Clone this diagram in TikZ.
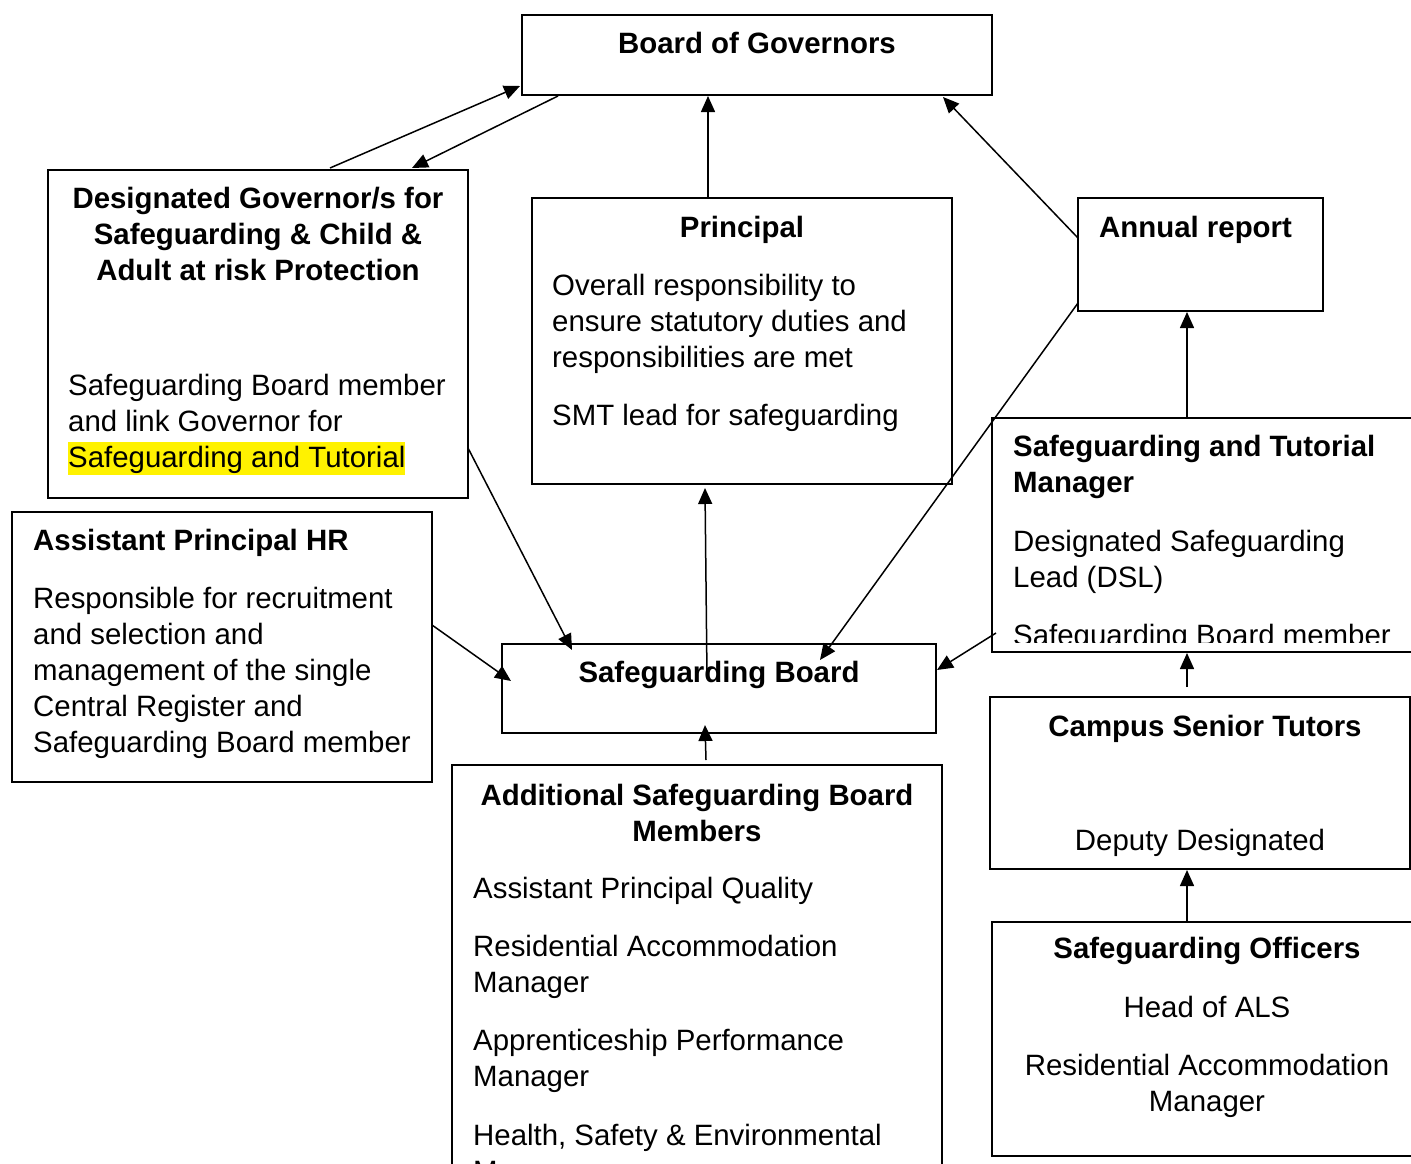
\documentclass[tikz,border=0pt]{standalone}
\usepackage{fontspec}
\setmainfont{Liberation Sans}
\usetikzlibrary{arrows.meta}
\begin{document}
\begin{tikzpicture}[x=1pt,y=-1pt,
  box/.style={draw=black,line width=1.8pt,anchor=north west,inner sep=0pt,outer sep=0pt},
  rt/.style={inner sep=0pt,font=\fontsize{29.4}{36}\selectfont},
  bt/.style={inner sep=0pt,font=\fontsize{29.4}{36}\selectfont\bfseries},
  arr/.style={line width=1.5pt,-{Triangle[length=16pt,width=14pt]}}]
\clip (0,0) rectangle (1411,1164);
\fill[white] (0,0) rectangle (1411,1164);
% boxes
\node[box,minimum width=470pt,minimum height=80pt] (bog) at (522,15) {};
\node[box,minimum width=420pt,minimum height=328pt] (dg) at (48,170) {};
\node[box,minimum width=420pt,minimum height=286pt] (pr) at (532,198) {};
\node[box,minimum width=245pt,minimum height=113pt] (ar) at (1078,198) {};
\node[box,minimum width=440pt,minimum height=234pt] (stm) at (992,418) {};
\node[box,minimum width=420pt,minimum height=270pt] (ap) at (12,512) {};
\node[box,minimum width=434pt,minimum height=89pt] (sb) at (502,644) {};
\node[box,minimum width=490pt,minimum height=440pt] (ad) at (452,765) {};
\node[box,minimum width=420pt,minimum height=172pt] (cst) at (990,697) {};
\node[box,minimum width=440pt,minimum height=234pt] (so) at (992,922) {};
% texts
\node[bt,anchor=base] (t1) at (757,54) {Board of Governors};
\node[bt,anchor=base] (t2) at (258,208) {Designated Governor/s for};
\node[bt,anchor=base] (t3) at (258,244) {Safeguarding \& Child \&};
\node[bt,anchor=base] (t4) at (258,280) {Adult at risk Protection};
\node[rt,anchor=base west] (t5) at (68,395) {Safeguarding Board member};
\node[rt,anchor=base west] (t6) at (68,431) {and link Governor for};
\node[rt,anchor=base west,fill=yellow,text height=25pt,text depth=8pt] (t7) at (68,467) {Safeguarding and Tutorial};
\node[bt,anchor=base] (t8) at (742,237) {Principal};
\node[rt,anchor=base west] (t9) at (552,295) {Overall responsibility to};
\node[rt,anchor=base west] (t10) at (552,331) {ensure statutory duties and};
\node[rt,anchor=base west] (t11) at (552,367) {responsibilities are met};
\node[rt,anchor=base west] (t12) at (552,425) {SMT lead for safeguarding};
\node[bt,anchor=base west] (t13) at (1099,237) {Annual report};
\begin{scope}
\clip (992,418) rectangle (1411,642);
\node[bt,anchor=base west] (t14) at (1013,456) {Safeguarding and Tutorial};
\node[bt,anchor=base west] (t15) at (1013,492) {Manager};
\node[rt,anchor=base west] (t16) at (1013,551) {Designated Safeguarding};
\node[rt,anchor=base west] (t17) at (1013,587) {Lead (DSL)};
\node[rt,anchor=base west] (t18) at (1013,645) {Safeguarding Board member};
\end{scope}
\node[bt,anchor=base west] (t19) at (33,550) {Assistant Principal HR};
\node[rt,anchor=base west] (t20) at (33,608) {Responsible for recruitment};
\node[rt,anchor=base west] (t21) at (33,644) {and selection and};
\node[rt,anchor=base west] (t22) at (33,680) {management of the single};
\node[rt,anchor=base west] (t23) at (33,716) {Central Register and};
\node[rt,anchor=base west] (t24) at (33,752) {Safeguarding Board member};
\node[bt,anchor=base] (t25) at (719,682) {Safeguarding Board};
\node[bt,anchor=base] (t26) at (697,805) {Additional Safeguarding Board};
\node[bt,anchor=base] (t27) at (697,841) {Members};
\node[rt,anchor=base west] (t28) at (473,898) {Assistant Principal Quality};
\node[rt,anchor=base west] (t29) at (473,956) {Residential Accommodation};
\node[rt,anchor=base west] (t30) at (473,992) {Manager};
\node[rt,anchor=base west] (t31) at (473,1050) {Apprenticeship Performance};
\node[rt,anchor=base west] (t32) at (473,1086) {Manager};
\node[rt,anchor=base west] (t33) at (473,1145) {Health, Safety \& Environmental};
\node[rt,anchor=base west] (t34) at (473,1181) {Manager};
\node[bt,anchor=base] (t35) at (1205,736) {Campus Senior Tutors};
\node[rt,anchor=base] (t36) at (1200,850) {Deputy Designated};
\node[bt,anchor=base] (t37) at (1207,958) {Safeguarding Officers};
\node[rt,anchor=base] (t38) at (1207,1017) {Head of ALS};
\node[rt,anchor=base] (t39) at (1207,1075) {Residential Accommodation};
\node[rt,anchor=base] (t40) at (1207,1111) {Manager};
% connectors
\draw[arr] ([xshift=282pt,yshift=2pt]dg.north west) -- ([xshift=-2pt,yshift=9pt]bog.south west);
\draw[arr] ([xshift=36pt,yshift=-1pt]bog.south west) -- ([xshift=364pt,yshift=2pt]dg.north west);
\draw[arr] ([xshift=176pt]pr.north west) -- ([xshift=186pt,yshift=-1pt]bog.south west);
\draw[arr] ([yshift=-40pt]ar.north west) -- ([xshift=-49pt,yshift=-2pt]bog.south east);
\draw[arr] ([xshift=195pt]stm.north west) -- ([xshift=109pt,yshift=-1pt]ar.south west);
\draw[arr] ([yshift=8pt]ar.south west) -- ([xshift=318pt,yshift=-16pt]sb.north west);
\draw[arr] ([yshift=50pt]dg.south east) -- ([xshift=70pt,yshift=-6pt]sb.north west);
\draw[arr] ([xshift=205pt,yshift=-33pt]sb.north west) -- ([xshift=173pt,yshift=-4pt]pr.south west);
\draw[arr] ([yshift=-113pt]ap.north east) -- ([xshift=9pt,yshift=-37pt]sb.north west);
\draw[arr] ([xshift=4pt,yshift=19pt]stm.south west) -- ([xshift=1pt,yshift=-26pt]sb.north east);
\draw[arr] ([xshift=254pt,yshift=5pt]ad.north west) -- ([xshift=203pt,yshift=8pt]sb.south west);
\draw[arr] ([xshift=197pt,yshift=10pt]cst.north west) -- ([xshift=195pt,yshift=-1pt]stm.south west);
\draw[arr] ([xshift=195pt]so.north west) -- ([xshift=197pt,yshift=-1pt]cst.south west);
\end{tikzpicture}
\end{document}
